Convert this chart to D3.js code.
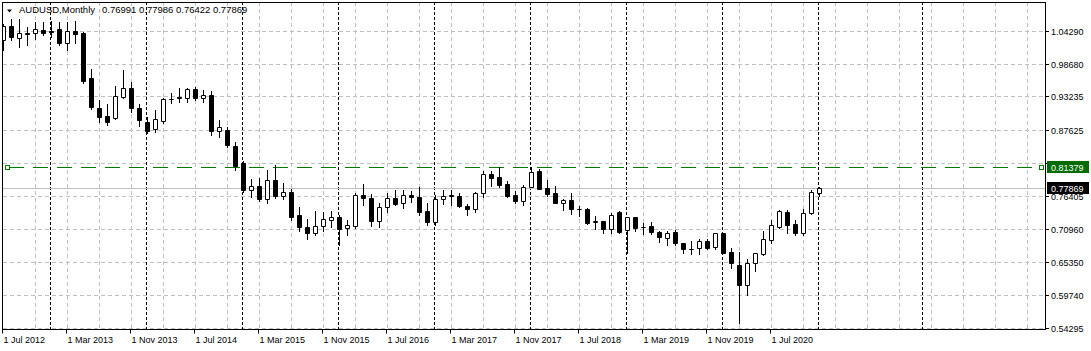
<!DOCTYPE html>
<html>
<head>
<meta charset="utf-8">
<script src="https://cdn.jsdelivr.net/npm/d3@7"></script>
<style>
  body { margin: 0; background: #fff; }
  svg { display: block; }
  text { font-family: "Liberation Sans", Arial, sans-serif; fill: #000; }
</style>
</head>
<body>
<div id="chart-area"></div>
<script>
var width = 1091,
    height = 351;

// monthly AUDUSD bars, Jul 2012 .. Jan 2021 (index 0 = Jul 2012)
var firstMonth = new Date(2012, 6, 1);

var open = [1.0272,1.0508,1.0300,1.0390,1.0385,1.0441,1.0432,1.0452,1.0217,1.0424,
  1.0385,0.9628,0.9133,0.8998,0.8954,0.9318,0.9459,0.9130,0.8900,0.8769,
  0.8909,0.9274,0.9290,0.9301,0.9443,0.9301,0.9342,0.8746,0.8758,0.8488,
  0.8207,0.7748,0.7815,0.7591,0.7916,0.7647,0.7719,0.7327,0.7130,0.7018,
  0.7142,0.7243,0.7299,0.7103,0.7142,0.7663,0.7608,0.7231,0.7456,0.7608,
  0.7523,0.7663,0.7625,0.7394,0.7214,0.7591,0.7660,0.7647,0.7478,0.7433,
  0.7692,0.8012,0.7962,0.7849,0.7663,0.7568,0.7803,0.8067,0.7776,0.7692,
  0.7534,0.7579,0.7422,0.7428,0.7214,0.7224,0.7086,0.7382,0.7074,0.7288,
  0.7130,0.7142,0.7046,0.6934,0.7035,0.6850,0.6750,0.6766,0.6894,0.6783,
  0.7018,0.6699,0.6485,0.6143,0.6514,0.6665,0.6906,0.7130,0.7382,0.7176,
  0.7029,0.7355,0.76991];
var high = [1.0540,1.0626,1.0626,1.0496,1.0570,1.0570,1.0597,1.0570,1.0570,1.0592,
  1.0400,0.9784,0.9260,0.9200,0.9498,0.9767,0.9560,0.9200,0.8980,0.9094,
  0.9290,0.9375,0.9459,0.9460,0.9476,0.9431,0.9419,0.8926,0.8803,0.8550,
  0.8230,0.7933,0.7944,0.8084,0.8169,0.7870,0.7759,0.7466,0.7260,0.7390,
  0.7380,0.7390,0.7330,0.7250,0.7700,0.7849,0.7680,0.7534,0.7692,0.7747,
  0.7747,0.7736,0.7803,0.7534,0.7663,0.7747,0.7750,0.7690,0.7520,0.7720,
  0.8072,0.8066,0.8140,0.7900,0.7730,0.7830,0.8136,0.8100,0.7915,0.7810,
  0.7600,0.7692,0.7480,0.7450,0.7310,0.7230,0.7360,0.7390,0.7300,0.7300,
  0.7200,0.7210,0.7060,0.7060,0.7080,0.6860,0.6890,0.6930,0.6930,0.7030,
  0.7030,0.6770,0.6709,0.6581,0.6690,0.7064,0.7242,0.7414,0.7414,0.7243,
  0.7428,0.7747,0.77986];
var low = [1.0104,1.0272,1.0160,1.0188,1.0284,1.0356,1.0328,1.0188,1.0097,1.0217,
  0.9544,0.9106,0.8890,0.8842,0.8937,0.9291,0.9066,0.8830,0.8700,0.8729,
  0.8880,0.9207,0.9234,0.9234,0.9262,0.9234,0.8673,0.8645,0.8476,0.8084,
  0.7719,0.7635,0.7568,0.7534,0.7608,0.7591,0.7243,0.7050,0.6918,0.6990,
  0.7050,0.7130,0.6827,0.6990,0.7100,0.7490,0.7142,0.7130,0.7380,0.7490,
  0.7440,0.7540,0.7327,0.7160,0.7160,0.7520,0.7490,0.7460,0.7330,0.7380,
  0.7635,0.7810,0.7803,0.7630,0.7530,0.7500,0.7793,0.7760,0.7640,0.7530,
  0.7410,0.7344,0.7310,0.7180,0.7085,0.7020,0.7020,0.7020,0.6682,0.7060,
  0.7000,0.7010,0.6865,0.6830,0.6830,0.6680,0.6670,0.6670,0.6750,0.6750,
  0.6680,0.6430,0.5514,0.5980,0.6380,0.6650,0.6860,0.7110,0.7018,0.6990,
  0.6990,0.7340,0.76422];
var close = [1.0508,1.0328,1.0395,1.0380,1.0452,1.0385,1.0400,1.0217,1.0424,1.0368,
  0.9582,0.9140,0.8981,0.8897,0.9330,0.9459,0.9123,0.8926,0.8746,0.8938,
  0.9274,0.9285,0.9305,0.9443,0.9291,0.9342,0.8746,0.8803,0.8505,0.8151,
  0.7748,0.7815,0.7591,0.7916,0.7647,0.7714,0.7298,0.7125,0.7018,0.7142,
  0.7254,0.7299,0.7086,0.7158,0.7663,0.7608,0.7231,0.7456,0.7608,0.7512,
  0.7663,0.7625,0.7382,0.7214,0.7591,0.7647,0.7640,0.7478,0.7433,0.7692,
  0.8012,0.7955,0.7832,0.7647,0.7568,0.7803,0.8056,0.7764,0.7680,0.7534,
  0.7579,0.7422,0.7428,0.7197,0.7220,0.7086,0.7322,0.7046,0.7288,0.7103,
  0.7120,0.7046,0.6951,0.7029,0.6850,0.6749,0.6754,0.6894,0.6766,0.7018,
  0.6692,0.6514,0.6143,0.6514,0.6682,0.6918,0.7159,0.7394,0.7159,0.7029,
  0.7355,0.7719,0.77869];

// price scale labels
var priceTicks = [1.04290, 0.98680, 0.93235, 0.87625, 0.82015, 0.76405, 0.70960, 0.65350, 0.59740, 0.54295];

// time scale labels (month index from Jul 2012)
var timeLabels = ["1 Jul 2012","1 Mar 2013","1 Nov 2013","1 Jul 2014","1 Mar 2015","1 Nov 2015",
  "1 Jul 2016","1 Mar 2017","1 Nov 2017","1 Jul 2018","1 Mar 2019","1 Nov 2019","1 Jul 2020"];
var timeLabelIdx = [0,8,16,24,32,40,48,56,64,72,80,88,96];

// grid columns every 4 months, period separators (yearly)
var gridIdx = d3.range(4, 129, 4);
var separatorIdx = [6,18,30,42,54,66,78,90,102,115];

var hLinePrice = 0.81379;
var bidPrice = 0.77869;
var symbol = "AUDUSD,Monthly";
var lineGreen = "#007a00";

var pLeft = 3, pRight = 1045, pTop = 2, pBottom = 329.5;

var x = d3.scaleLinear().domain([0, 1]).range([3.5, 11.5]);
var y = d3.scaleLinear().domain([0.54295, 1.04290]).range([327.7, 30.7]);
var py = function(p) { return Math.round(y(p)) + 0.5; };

var bars = open.map(function(o, i) {
  return {i: i, date: d3.timeMonth.offset(firstMonth, i), o: o, h: high[i], l: low[i], c: close[i]};
});

var svg = d3.select("#chart-area").append("svg")
    .attr("width", width)
    .attr("height", height);

svg.append("defs").append("clipPath").attr("id", "plot")
  .append("rect").attr("x", pLeft).attr("y", pTop).attr("width", pRight - pLeft).attr("height", pBottom - pTop);

var plot = svg.append("g").attr("clip-path", "url(#plot)");

// horizontal grid
plot.selectAll(".hgrid")
  .data(priceTicks)
  .enter().append("line")
  .attr("x1", pLeft).attr("x2", pRight)
  .attr("y1", py).attr("y2", py)
  .style("stroke", "#c0c0c0")
  .style("stroke-dasharray", "4,3");

// vertical grid
plot.selectAll(".vgrid")
  .data(gridIdx)
  .enter().append("line")
  .attr("x1", d => Math.floor(x(d)) + 0.5).attr("x2", d => Math.floor(x(d)) + 0.5)
  .attr("y1", pTop).attr("y2", pBottom)
  .style("stroke", "#c0c0c0")
  .style("stroke-dasharray", "4,3");

// period separators
plot.selectAll(".sep")
  .data(separatorIdx)
  .enter().append("line")
  .attr("x1", d => Math.floor(x(d)) - 0.5).attr("x2", d => Math.floor(x(d)) - 0.5)
  .attr("y1", pTop).attr("y2", pBottom)
  .style("stroke", "#000")
  .style("stroke-dasharray", "3,2");

// bid line
plot.append("line")
  .attr("x1", pLeft).attr("x2", pRight)
  .attr("y1", py(bidPrice)).attr("y2", py(bidPrice))
  .style("stroke", "#c0c0c0");

// horizontal line object
plot.append("line")
  .attr("x1", pLeft + 6).attr("x2", pRight - 6)
  .attr("y1", py(hLinePrice)).attr("y2", py(hLinePrice))
  .style("stroke", lineGreen)
  .style("stroke-width", 1)
  .style("stroke-dasharray", "15,9");

// candles
var candle = plot.selectAll(".candle")
  .data(bars)
  .enter().append("g")
  .attr("class", "candle");

candle.append("line")
  .attr("x1", d => Math.floor(x(d.i)) + 0.5).attr("x2", d => Math.floor(x(d.i)) + 0.5)
  .attr("y1", d => py(d.h) - 0.5).attr("y2", d => py(d.l) + 0.5)
  .style("stroke", "#000");

candle.append("path")
  .attr("d", function(d) {
    var cx = Math.floor(x(d.i)) + 0.5;
    var y0 = py(Math.max(d.o, d.c)), y1 = py(Math.min(d.o, d.c));
    return "M" + (cx - 2) + "," + y0 + "H" + (cx + 2) + "V" + y1 + "H" + (cx - 2) + "Z";
  })
  .style("fill", d => d.c >= d.o ? "#fff" : "#000")
  .style("stroke", "#000");

// anchor squares of the line object
plot.selectAll(".anchor")
  .data([pLeft + 2, pRight - 6])
  .enter().append("rect")
  .attr("x", d => d + 0.5).attr("y", py(hLinePrice) - 2)
  .attr("width", 4).attr("height", 4)
  .style("fill", "#fff")
  .style("stroke", lineGreen);

// frame
svg.append("rect")
  .attr("x", pLeft - 0.5).attr("y", pTop + 0.5)
  .attr("width", pRight - pLeft + 1).attr("height", pBottom - pTop - 0.5)
  .style("fill", "none")
  .style("stroke", "#000");

// price labels of line object and bid
var boxes = [{p: hLinePrice, fill: "#006c00"}, {p: bidPrice, fill: "#000"}];

// price axis (a label fully hidden under a box is not drawn)
var shownTicks = priceTicks.filter(t => boxes.every(b => Math.abs(py(t) - py(b.p)) > 6));
var yAxis = svg.append("g");
yAxis.selectAll(".tick")
  .data(priceTicks)
  .enter().append("line")
  .attr("x1", pRight + 1).attr("x2", pRight + 4)
  .attr("y1", py).attr("y2", py)
  .style("stroke", "#000");
yAxis.selectAll(".lbl")
  .data(shownTicks)
  .enter().append("text")
  .attr("x", pRight + 6)
  .attr("y", d => py(d) + 3.5)
  .style("font-size", "9px")
  .text(d => d.toFixed(5));

// time axis
svg.selectAll(".xtick")
  .data(timeLabelIdx)
  .enter().append("line")
  .attr("x1", d => Math.floor(x(d)) - 0.5).attr("x2", d => Math.floor(x(d)) - 0.5)
  .attr("y1", pBottom).attr("y2", pBottom + 4)
  .style("stroke", "#000");
svg.selectAll(".xlbl")
  .data(timeLabelIdx)
  .enter().append("text")
  .attr("x", d => Math.floor(x(d)) + 0.5)
  .attr("y", 343)
  .style("font-size", "9px")
  .text((d, k) => timeLabels[k]);

var box = svg.selectAll(".box").data(boxes).enter().append("g");
box.append("rect")
  .attr("x", pRight + 2).attr("y", d => py(d.p) - 6.5)
  .attr("width", 42).attr("height", 12)
  .style("fill", d => d.fill);
box.append("text")
  .attr("x", pRight + 6).attr("y", d => py(d.p) + 3.5)
  .style("font-size", "9px")
  .style("fill", "#fff")
  .text(d => d.p.toFixed(5));

// header
svg.append("path").attr("d", "M7,9.5H12L9.5,12.5Z").style("fill", "#000");
var last = bars[bars.length - 1];
svg.append("text")
  .attr("x", 19).attr("y", 13)
  .style("font-size", "9.5px")
  .text(symbol);
svg.append("text")
  .attr("x", 102).attr("y", 13)
  .style("font-size", "9.5px")
  .text([last.o, last.h, last.l, last.c].map(v => v.toFixed(5)).join(" "));
</script>
</body>
</html>
